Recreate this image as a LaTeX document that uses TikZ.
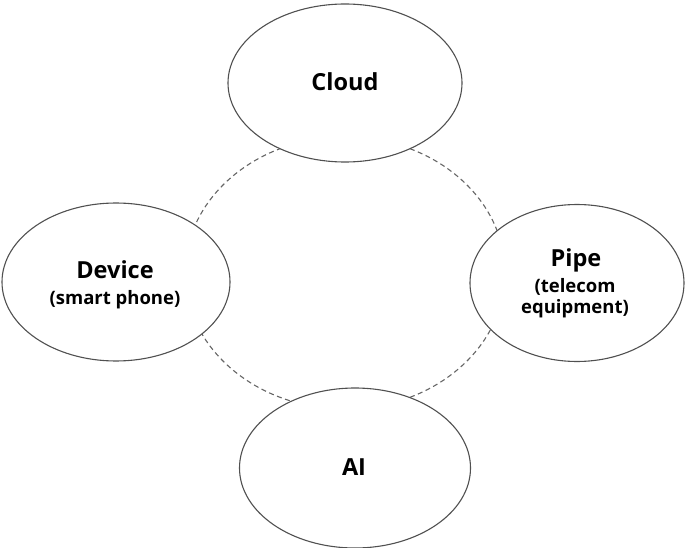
\documentclass[tikz,border=0pt]{standalone}
\usepackage{fontspec}
\setmainfont{Open Sans}
\usetikzlibrary{shapes.geometric}
\definecolor{edge}{HTML}{505050}
\definecolor{ring}{HTML}{666666}
\tikzset{
  bubble/.style={ellipse, draw=edge, line width=1.1pt, fill=white, inner sep=0pt},
  mainlbl/.style={anchor=base, inner sep=0pt, font=\fontsize{23.5}{28}\selectfont\bfseries},
  sublbl/.style={anchor=base, inner sep=0pt, font=\fontsize{18.5}{22}\selectfont\bfseries},
  ringline/.style={draw=ring, line width=1.1pt, dash pattern=on 5pt off 3.5pt}
}
\begin{document}
\begin{tikzpicture}[x=1pt, y=-1pt]
\useasboundingbox (0,0) rectangle (685,548);
\coordinate (ringc) at (345,273);
\draw[ringline] (ringc) ellipse [x radius=160, y radius=136];
\node[bubble, minimum width=234pt, minimum height=158pt] (cloud) at (345,83) {};
\node[bubble, minimum width=228pt, minimum height=158pt] (device) at (116,282) {};
\node[bubble, minimum width=214pt, minimum height=157pt] (pipe) at (577,283) {};
\node[bubble, minimum width=231pt, minimum height=160pt] (ai) at (355,468) {};
\node[mainlbl] (cloudt) at (345,90.5) {Cloud};
\node[mainlbl] (devicet) at (115,278) {Device};
\node[sublbl] (devices) at (115,304) {(smart phone)};
\node[mainlbl] (pipet) at (576,266) {Pipe};
\node[sublbl] (pipes1) at (575,292.5) {(telecom};
\node[sublbl] (pipes2) at (575,313.5) {equipment)};
\node[mainlbl] (ait) at (354,475.5) {AI};
\end{tikzpicture}
\end{document}
